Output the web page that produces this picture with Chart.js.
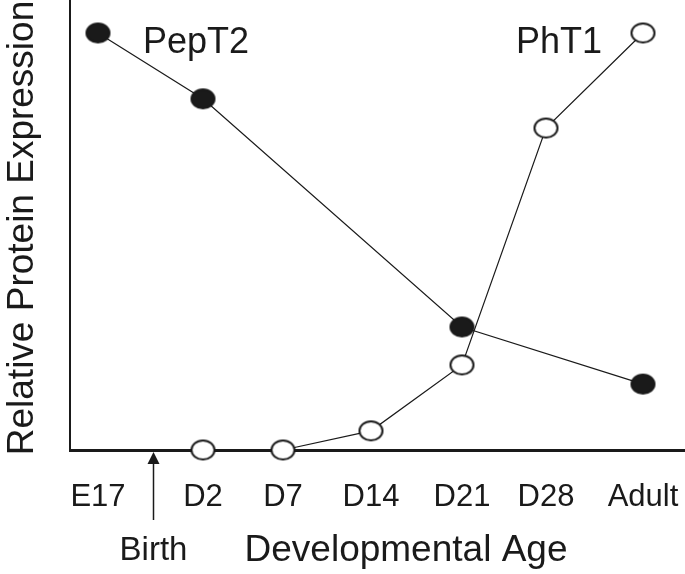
<!DOCTYPE html>
<html>
<head>
<meta charset="utf-8">
<script src="https://cdn.jsdelivr.net/npm/chart.js@4"></script>
<style>
  html, body { margin: 0; padding: 0; background: #fff; }
  #wrap { width: 685px; height: 574px; }
</style>
</head>
<body>
<div id="wrap"><canvas id="chart"></canvas></div>
<script>
// --- Data ---
const ageLabels = ['E17', 'D2', 'D7', 'D14', 'D21', 'D28', 'Adult'];
// position of each age along the (unevenly spaced) x axis
const agePos = [28, 133, 213, 301, 392, 476, 573];
const birthPos = 83;

// relative protein expression (top point = 1.0), null = not measured
const pepT2 = [1.0, 0.842, null, null, 0.295, null, 0.158];
const phT1 = [null, 0, 0, 0.046, 0.204, 0.772, 1.0];

const FONT = '"Liberation Sans", Arial, sans-serif';
const INK = '#1a1a1a';

function toPoints(values) {
  return values
    .map((v, i) => ({ x: agePos[i], y: v }))
    .filter(p => p.y !== null);
}

// slightly flattened circle markers, like the original figure
function ellipseMarker(fill) {
  const c = document.createElement('canvas');
  c.width = 27;
  c.height = 23;
  const g = c.getContext('2d');
  g.beginPath();
  g.ellipse(13.5, 11.5, 11.5, 9.5, 0, 0, Math.PI * 2);
  g.fillStyle = fill;
  g.fill();
  g.lineWidth = 2;
  g.strokeStyle = INK;
  g.stroke();
  return c;
}

// extra texts: axis titles, series names, birth arrow
const annotations = {
  id: 'annotations',
  afterDraw(chart) {
    const ctx = chart.ctx;
    const xs = chart.scales.x;
    const ys = chart.scales.y;
    const area = chart.chartArea;
    ctx.save();
    ctx.fillStyle = INK;
    ctx.strokeStyle = INK;

    // series names
    ctx.font = '36px ' + FONT;
    ctx.textBaseline = 'alphabetic';
    ctx.textAlign = 'left';
    ctx.fillText('PepT2', xs.getPixelForValue(agePos[0]) + 45, ys.getPixelForValue(1.0) + 20);
    ctx.textAlign = 'right';
    ctx.fillText('PhT1', xs.getPixelForValue(agePos[6]) - 41, ys.getPixelForValue(1.0) + 20);

    // birth arrow
    const bx = Math.round(xs.getPixelForValue(birthPos)) + 0.5;
    const by = area.bottom + 2;
    ctx.lineWidth = 1.5;
    ctx.beginPath();
    ctx.moveTo(bx, by + 8);
    ctx.lineTo(bx, by + 68);
    ctx.stroke();
    ctx.beginPath();
    ctx.moveTo(bx, by);
    ctx.lineTo(bx - 6, by + 12);
    ctx.lineTo(bx + 6, by + 12);
    ctx.closePath();
    ctx.fill();

    ctx.textAlign = 'center';
    ctx.font = '33px ' + FONT;
    ctx.fillText('Birth', bx, 560);

    // x axis title
    ctx.font = '37px ' + FONT;
    ctx.fillText('Developmental Age', 406, 561);

    // y axis title
    ctx.translate(33, 228);
    ctx.rotate(-Math.PI / 2);
    ctx.font = '37px ' + FONT;
    ctx.fillText('Relative Protein Expression', 0, 0);
    ctx.restore();
  }
};

new Chart(document.getElementById('chart'), {
  type: 'line',
  data: {
    datasets: [
      {
        label: 'PhT1',
        data: toPoints(phT1),
        borderColor: INK,
        borderWidth: 1.2,
        pointStyle: ellipseMarker('#fff'),
        clip: false
      },
      {
        label: 'PepT2',
        data: toPoints(pepT2),
        borderColor: INK,
        borderWidth: 1.2,
        pointStyle: ellipseMarker(INK),
        clip: false
      }
    ]
  },
  options: {
    responsive: true,
    maintainAspectRatio: false,
    animation: false,
    layout: { padding: 0, autoPadding: false },
    plugins: {
      legend: { display: false },
      tooltip: { enabled: false }
    },
    scales: {
      x: {
        type: 'linear',
        min: 0,
        max: 615,
        afterBuildTicks: scale => {
          scale.ticks = agePos.map(v => ({ value: v }));
        },
        afterFit: scale => {
          scale.height = 124;
          scale.paddingLeft = 0;
          scale.paddingRight = 0;
        },
        grid: { display: false, drawTicks: false },
        border: { display: true, color: INK, width: 3 },
        ticks: {
          autoSkip: false,
          maxRotation: 0,
          padding: 29,
          color: INK,
          font: { family: FONT, size: 31 },
          callback: (v, i) => ageLabels[i]
        }
      },
      y: {
        min: 0,
        max: 1.079,
        afterFit: scale => {
          scale.width = 70;
          scale.paddingTop = 0;
          scale.paddingBottom = 0;
        },
        grid: { display: false, drawTicks: false },
        border: { display: true, color: INK, width: 2 },
        ticks: { display: false }
      }
    }
  },
  plugins: [annotations]
});
</script>
</body>
</html>
